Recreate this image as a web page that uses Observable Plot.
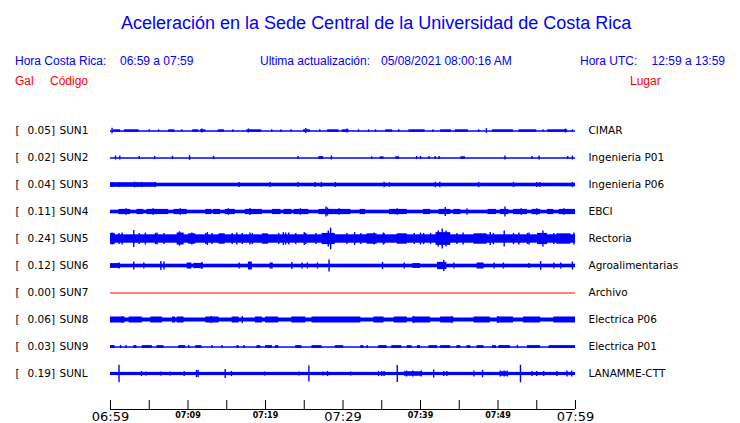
<!DOCTYPE html>
<html>
<head>
<meta charset="utf-8">
<script src="https://cdn.jsdelivr.net/npm/d3@7"></script>
<script src="https://cdn.jsdelivr.net/npm/@observablehq/plot@0.6"></script>
<style>
  body { margin: 0; background: #fff; }
  #wrap { position: relative; width: 740px; height: 423px; overflow: hidden; font-family: "Liberation Sans", Arial, sans-serif; }
  .t { position: absolute; white-space: pre; line-height: 1; }
  .blue { color: #0000ff; }
  .red { color: #ff0000; }
  #wrap svg { position: absolute; left: 0; }
</style>
</head>
<body>
<div id="wrap"></div>
<script>
// ---------- text ----------
const titleText = "Aceleración en la Sede Central de la Universidad de Costa Rica";
const localLabel = "Hora Costa Rica:";
const localRange = "06:59 a 07:59";
const updateLabel = "Ultima actualización:";
const updateValue = "05/08/2021 08:00:16 AM";
const utcLabel = "Hora UTC:";
const utcRange = "12:59 a 13:59";

// ---------- stations ----------
const codes  = ["SUN1","SUN2","SUN3","SUN4","SUN5","SUN6","SUN7","SUN8","SUN9","SUNL"];
const gal    = [0.05, 0.02, 0.04, 0.11, 0.24, 0.12, 0.00, 0.06, 0.03, 0.19];
const places = ["CIMAR","Ingenieria P01","Ingenieria P06","EBCI","Rectoria","Agroalimentarias","Archivo","Electrica P06","Electrica P01","LANAMME-CTT"];
// typical background half-amplitude of each trace (gal)
const base   = [0, 0, 0.045, 0.045, 0.105, 0.045, 0, 0.05, 0, 0.04];

// time in minutes after 06:59
const startMin = 0, endMin = 60;
const tickMinutes = [0,5,10,15,20,25,30,35,40,45,50,55,60];
const tickLabels = ["06:59","07:09","07:19","07:29","07:39","07:49","07:59"];
const tickLabelMinutes = [0,10,20,30,40,50,60];
const majorLabels = ["06:59","07:29","07:59"];

// bursts: [start min, end min, half-amplitude gal]
const burstsSUN1 = [[0.4,1.3,0.03],[1.8,3.7,0.03],[7.5,8.3,0.03],[10.6,11.4,0.03],[11.6,12.3,0.03],[13.9,14.7,0.03],[17.6,19.5,0.03],[24.9,25.8,0.03],[28.0,29.5,0.03],[29.9,30.8,0.03],[35.5,36.4,0.03],[38.5,40.6,0.03],[42.6,44.0,0.03],[44.5,46.2,0.03],[49.3,52.0,0.03],[52.7,55.0,0.03],[56.4,59.0,0.03]];
const burstsSUN2 = [[26.9,27.5,0.035],[34.8,35.3,0.03],[36.8,37.3,0.03],[45.2,45.8,0.03]];
const burstsSUN3 = [[0,5.8,0.055]];
const burstsSUN4 = [[1.1,2.6,0.065],[3.4,4.3,0.065],[4.7,7.5,0.065],[8.2,9.9,0.065],[12.3,13.1,0.065],[13.3,14.2,0.065],[14.8,16.1,0.065],[17.4,19.6,0.065],[20.9,22.0,0.065],[22.4,23.4,0.065],[23.7,25.6,0.065],[26.9,31.0,0.065],[32.2,32.9,0.065],[36.0,38.3,0.065],[40.4,41.3,0.065],[42.4,43.9,0.065],[44.3,45.2,0.065],[48.7,49.8,0.065],[50.3,51.4,0.065],[52.0,53.8,0.065],[54.4,55.5,0.065],[56.4,57.2,0.065],[57.9,60,0.065]];
const burstsSUN5 = [[0,0.6,0.14],[8.6,9.5,0.15],[10.1,11.0,0.13],[14.0,14.8,0.13],[19.6,20.4,0.13],[27.3,29.0,0.14],[33.1,34.4,0.13],[37.0,38.3,0.13],[42.0,43.9,0.16],[46.9,48.6,0.13],[55.1,56.4,0.14],[57.6,59.4,0.13]];
const burstsSUN6 = [[0,1.3,0.06],[9.9,10.5,0.075],[10.75,12.0,0.065],[17.8,18.3,0.1],[20.6,21.0,0.075],[39.0,40.0,0.06],[42.2,43.4,0.09],[47.3,48.2,0.075]];
const burstsSUN7 = [];
const burstsSUN8 = [[0,1.9,0.075],[2.4,4.1,0.075],[5.2,6.7,0.075],[8.0,8.4,0.075],[8.6,9.5,0.075],[12.3,14.0,0.075],[15.7,16.6,0.075],[18.7,19.6,0.075],[20.0,21.7,0.075],[23.4,25.2,0.075],[26.0,32.3,0.075],[34.0,35.3,0.075],[36.6,38.3,0.075],[39.0,41.3,0.075],[42.6,44.3,0.075],[46.9,49.0,0.075],[49.9,52.0,0.075],[53.3,55.5,0.075],[57.2,60,0.075]];
const burstsSUN9 = [[0,0.6,0.035],[3.0,3.4,0.035],[4.1,5.4,0.035],[6.0,6.9,0.035],[8.8,9.7,0.035],[11.0,11.8,0.035],[16.3,16.6,0.035],[17.2,17.4,0.035],[18.9,19.4,0.035],[20.0,20.9,0.035],[21.3,21.7,0.035],[23.9,24.7,0.035],[26.0,27.3,0.035],[29.0,30.1,0.035],[32.3,32.7,0.035],[34.6,35.7,0.035],[36.3,37.6,0.035],[38.3,38.9,0.035],[39.6,40.0,0.035],[41.1,42.2,0.035],[42.6,43.9,0.035],[44.7,45.2,0.035],[46.0,46.5,0.035],[47.3,48.2,0.035],[49.3,49.8,0.035],[50.1,51.6,0.035],[53.8,55.5,0.035],[56.6,60,0.035]];
const burstsSUNL = [[37.9,40.2,0.055],[50.3,51.2,0.055]];

// spikes: [min, half-amplitude gal]
const spikesSUN1 = [[0.2,0.07],[5.0,0.03],[6.2,0.03],[9.2,0.03],[11.8,0.05],[15.8,0.03],[17.8,0.05],[20.8,0.03],[22.0,0.03],[23.3,0.03],[25.2,0.06],[27.0,0.03],[30.5,0.05],[32.0,0.03],[33.3,0.03],[34.2,0.03],[37.2,0.03],[41.6,0.03],[47.5,0.03],[48.5,0.06],[55.8,0.03],[58.7,0.05],[59.6,0.03]];
const spikesSUN2 = [[0.65,0.05],[1.2,0.05],[3.7,0.04],[5.7,0.04],[8.0,0.04],[10.2,0.06],[13.3,0.04],[24.2,0.04],[28.5,0.05],[33.7,0.03],[39.5,0.04],[40.0,0.04],[41.1,0.04],[41.9,0.04],[42.4,0.04],[50.9,0.05],[54.4,0.04],[55.3,0.05],[59.0,0.04],[59.6,0.05]];
const spikesSUN3 = [[0.2,0.065],[1.1,0.065],[3.1,0.07],[3.5,0.065],[4.0,0.065],[5.8,0.065],[16.6,0.065],[20.6,0.065],[24.2,0.065],[26.4,0.065],[27.2,0.065],[29.0,0.065],[35.3,0.07],[36.0,0.055],[41.9,0.07],[42.5,0.07],[47.5,0.065],[52.0,0.065],[55.0,0.065],[55.4,0.065],[59.6,0.065]];
const spikesSUN4 = [[2.0,0.08],[5.5,0.08],[9.0,0.08],[15.2,0.08],[18.0,0.09],[24.5,0.08],[27.8,0.125],[28.0,0.1],[29.5,0.08],[37.0,0.08],[43.2,0.11],[46.0,0.08],[50.9,0.125],[53.0,0.08],[55.0,0.08],[58.5,0.08]];
const spikesSUN5 = [[0.2,0.15],[1.1,0.14],[1.5,0.15],[3.0,0.21],[3.7,0.14],[4.5,0.15],[5.8,0.14],[6.0,0.15],[6.9,0.14],[8.9,0.18],[10.5,0.15],[12.3,0.14],[12.5,0.16],[13.1,0.14],[15.7,0.14],[16.3,0.15],[17.0,0.14],[18.0,0.15],[18.3,0.14],[21.7,0.14],[22.3,0.16],[22.6,0.15],[23.0,0.15],[23.9,0.14],[25.0,0.16],[25.2,0.14],[26.5,0.14],[28.1,0.2],[28.4,0.27],[30.5,0.14],[31.5,0.16],[32.3,0.14],[34.0,0.15],[35.2,0.15],[35.3,0.14],[39.2,0.14],[40.0,0.15],[40.4,0.14],[41.3,0.14],[42.3,0.2],[42.8,0.25],[43.3,0.2],[44.7,0.14],[45.5,0.15],[49.0,0.16],[49.4,0.14],[50.8,0.2],[52.0,0.14],[52.7,0.15],[53.8,0.14],[54.0,0.15],[55.8,0.2],[57.2,0.14],[59.8,0.15]];
const spikesSUN6 = [[1.1,0.075],[3.0,0.1],[4.3,0.075],[6.5,0.11],[6.9,0.1],[11.8,0.09],[16.6,0.075],[23.4,0.09],[24.7,0.075],[25.4,0.075],[26.7,0.075],[28.2,0.15],[35.1,0.09],[37.9,0.075],[43.0,0.14],[44.3,0.075],[49.5,0.075],[50.7,0.075],[54.0,0.065],[55.5,0.11],[57.2,0.075],[58.1,0.075],[59.6,0.1]];
const spikesSUN7 = [];
const spikesSUN8 = [[1.5,0.09],[13.0,0.085],[17.0,0.09],[39.1,0.09],[44.0,0.085],[50.0,0.085]];
const spikesSUN9 = [[1.3,0.04],[2.0,0.04],[10.1,0.04],[13.1,0.04],[14.4,0.04],[33.1,0.04],[52.5,0.04]];
const spikesSUNL = [[1.1,0.22],[4.0,0.065],[4.6,0.05],[6.5,0.05],[7.7,0.05],[9.5,0.065],[11.1,0.09],[11.3,0.09],[14.8,0.11],[15.6,0.065],[19.9,0.05],[24.3,0.05],[25.6,0.2],[27.4,0.05],[28.0,0.065],[31.0,0.05],[34.6,0.065],[35.0,0.065],[35.3,0.065],[37.0,0.21],[38.2,0.075],[39.0,0.075],[40.1,0.075],[41.7,0.1],[43.0,0.065],[43.4,0.065],[46.9,0.075],[48.0,0.09],[50.3,0.075],[50.8,0.075],[51.2,0.075],[52.9,0.22],[54.4,0.065],[55.0,0.065],[55.9,0.065],[57.6,0.065],[58.9,0.075],[59.5,0.075]];

const burstLists = [burstsSUN1,burstsSUN2,burstsSUN3,burstsSUN4,burstsSUN5,burstsSUN6,burstsSUN7,burstsSUN8,burstsSUN9,burstsSUNL];
const spikeLists = [spikesSUN1,spikesSUN2,spikesSUN3,spikesSUN4,spikesSUN5,spikesSUN6,spikesSUN7,spikesSUN8,spikesSUN9,spikesSUNL];

// ---------- tables ----------
const rows = codes.map((c, i) => ({code: c, gal: gal[i], place: places[i], base: base[i], t0: startMin, t1: endMin}));
const burstRows = codes.flatMap((c, i) => burstLists[i].map(([t0, t1, a]) => ({code: c, t0, t1, a})));
const spikeRows = codes.flatMap((c, i) => spikeLists[i].map(([t, a]) => ({code: c, t, a})));
const labelRows = tickLabels.map((label, i) => ({label, t: tickLabelMinutes[i]}));

const BLUE = "#0000ff", RED = "#ff0000";
const FONT = "DejaVu Sans";

const wrap = document.getElementById("wrap");

const main = Plot.plot({
  width: 740, height: 423,
  marginTop: 116.5, marginBottom: 36.5, marginLeft: 110, marginRight: 165,
  x: {domain: [startMin, endMin], axis: null},
  y: {domain: [-0.3375, 0.3375], axis: null},
  fy: {domain: codes, padding: 0, axis: null},
  style: {background: "transparent", overflow: "visible"},
  marks: [
    Plot.ruleY(rows.filter(d => d.gal > 0), {fy: "code", y: () => 0, x1: "t0", x2: "t1", stroke: BLUE, strokeWidth: 1.3}),
    Plot.ruleY(rows.filter(d => d.gal === 0), {fy: "code", y: () => 0, x1: "t0", x2: "t1", stroke: RED, strokeWidth: 1}),
    Plot.rect(rows.filter(d => d.base > 0), {fy: "code", x1: "t0", x2: "t1", y1: d => -d.base, y2: d => d.base, fill: BLUE}),
    Plot.rect(burstRows, {fy: "code", x1: "t0", x2: "t1", y1: d => -d.a, y2: d => d.a, fill: BLUE}),
    Plot.ruleX(spikeRows, {fy: "code", x: "t", y1: d => -d.a, y2: d => d.a, stroke: BLUE, strokeWidth: 1.4}),
    Plot.text(rows, {fy: "code", frameAnchor: "left", text: () => "[", dx: -95, textAnchor: "start", fontFamily: FONT, fontSize: 10.5, fill: "black"}),
    Plot.text(rows, {fy: "code", frameAnchor: "left", text: d => d3.format(".2f")(d.gal) + "]", dx: -55.5, textAnchor: "end", fontFamily: FONT, fontSize: 10.5, fill: "black"}),
    Plot.text(rows, {fy: "code", frameAnchor: "left", text: "code", dx: -51, textAnchor: "start", fontFamily: FONT, fontSize: 10.5, fill: "black"}),
    Plot.text(rows, {fy: "code", frameAnchor: "right", text: "place", dx: 13, textAnchor: "start", fontFamily: FONT, fontSize: 10.5, fill: "black"})
  ]
});
main.style.top = "0px";
wrap.appendChild(main);

const axis = Plot.plot({
  width: 740, height: 28,
  marginTop: 5, marginBottom: 14, marginLeft: 110, marginRight: 165,
  x: {domain: [startMin, endMin], axis: null},
  y: {domain: [0, 1], axis: null},
  style: {background: "transparent", overflow: "visible"},
  marks: [
    Plot.ruleX(tickMinutes, {x: d => d, stroke: "black"}),
    Plot.ruleY([0], {stroke: "black"}),
    Plot.text(labelRows.filter(d => majorLabels.includes(d.label)), {x: "t", text: "label", frameAnchor: "bottom", lineAnchor: "top", dy: 2.5, fontFamily: FONT, fontSize: 13, fill: "black"}),
    Plot.text(labelRows.filter(d => !majorLabels.includes(d.label)), {x: "t", text: "label", frameAnchor: "bottom", lineAnchor: "top", dy: 3, fontFamily: FONT, fontSize: 8, fontWeight: "bold", fill: "black"})
  ]
});
axis.style.top = "395px";
wrap.appendChild(axis);

// ---------- header texts ----------
function addText(txt, cls, css) {
  const d = document.createElement("div");
  d.className = "t " + cls;
  d.textContent = txt;
  Object.assign(d.style, css);
  wrap.appendChild(d);
}
addText(titleText, "blue", {left: "121px", top: "14px", fontSize: "18px"});
addText(localLabel, "blue", {left: "15px", top: "55px", fontSize: "12px"});
addText(localRange, "blue", {left: "120px", top: "55px", fontSize: "12px"});
addText(updateLabel, "blue", {left: "260px", top: "55px", fontSize: "12px"});
addText(updateValue, "blue", {left: "381px", top: "55px", fontSize: "12px"});
addText(utcLabel, "blue", {left: "580px", top: "55px", fontSize: "12px"});
addText(utcRange, "blue", {right: "15px", top: "55px", fontSize: "12px"});
addText("Gal", "red", {left: "15px", top: "75px", fontSize: "12px"});
addText("Código", "red", {left: "50px", top: "75px", fontSize: "12px"});
addText("Lugar", "red", {left: "630px", top: "75px", fontSize: "12px"});
</script>
</body>
</html>
